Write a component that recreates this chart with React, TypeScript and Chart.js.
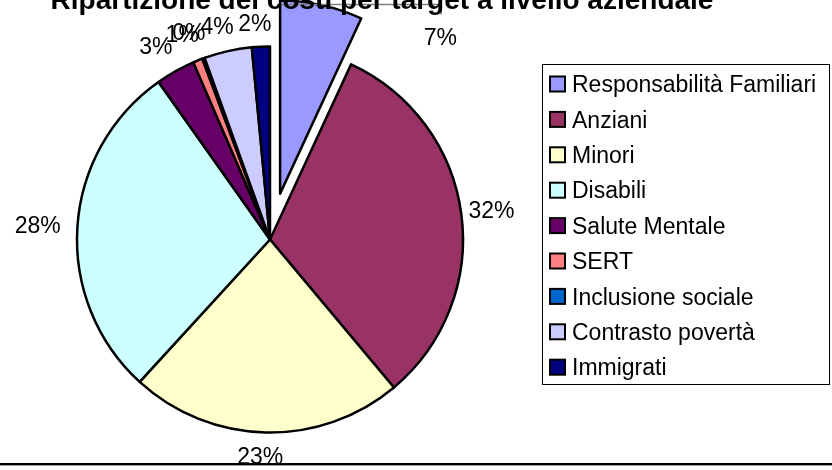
import React, { useEffect, useRef } from "react";
import { Chart, registerables } from "chart.js";

Chart.register(...registerables);

const TITLE = "Ripartizione dei costi per target a livello aziendale";
const CATEGORIES = [
  "Responsabilità Familiari",
  "Anziani",
  "Minori",
  "Disabili",
  "Salute Mentale",
  "SERT",
  "Inclusione sociale",
  "Contrasto povertà",
  "Immigrati",
];
const SHARES = [6.9, 32.0, 22.9, 28.4, 3.3, 0.8, 0.2, 4.0, 1.5];
const COLORS = [
  "#9999FF",
  "#993366",
  "#FFFFCC",
  "#CCFFFF",
  "#660066",
  "#FF8080",
  "#0066CC",
  "#CCCCFF",
  "#000080",
];
// explode distance (px) per slice
const EXPLODE = [47, 0, 0, 0, 0, 0, 0, 0, 0];

const FONT = '"Liberation Sans", Arial, sans-serif';
const LABEL_GAP = 11;
const LABEL_SHIFT_X = -5;
const LABEL_NUDGE = [118, 57];

const decorPlugin = {
  id: "decor",
  afterDatasetUpdate(chart: any, args: any) {
    if (args.index !== 0) return;
    const meta = chart.getDatasetMeta(0);
    meta.data.forEach((el: any, i: number) => {
      const d = EXPLODE[i] || 0;
      if (!d) return;
      const mid = (el.startAngle + el.endAngle) / 2;
      el.x += Math.cos(mid) * d;
      el.y += Math.sin(mid) * d;
    });
  },
  afterDatasetsDraw(chart: any) {
    const ctx = chart.ctx as CanvasRenderingContext2D;
    const meta = chart.getDatasetMeta(0);
    const data = chart.data.datasets[0].data as number[];
    const total = data.reduce((a, b) => a + b, 0);
    ctx.save();
    ctx.font = `23px ${FONT}`;
    ctx.fillStyle = "#000";
    ctx.textAlign = "center";
    ctx.textBaseline = "alphabetic";
    meta.data.forEach((el: any, i: number) => {
      const p = el.getProps(["x", "y", "startAngle", "endAngle", "outerRadius"], true);
      const mid = (p.startAngle + p.endAngle) / 2;
      const cx = p.x;
      const cy = p.y;
      const txt = Math.round((data[i] / total) * 100) + "%";
      const hw = ctx.measureText(txt).width / 2;
      const hh = 12;
      const dx = Math.cos(mid);
      const dy = Math.sin(mid);
      const d = p.outerRadius + LABEL_GAP + Math.abs(dx) * hw + Math.abs(dy) * hh;
      let lx = cx + dx * d + LABEL_SHIFT_X;
      let ly = cy + dy * d;
      if (EXPLODE[i]) {
        lx += LABEL_NUDGE[0];
        ly += LABEL_NUDGE[1];
        ctx.save();
        ctx.strokeStyle = "#808080";
        ctx.lineWidth = 1.5;
        ctx.beginPath();
        ctx.moveTo(cx, ly - 32);
        ctx.lineTo(lx + 1, ly - 32);
        ctx.lineTo(lx + 1, ly - 22);
        ctx.stroke();
        ctx.restore();
      }
      ctx.fillText(txt, lx, ly + 8.2);
    });
    ctx.restore();
  },
  afterDraw(chart: any) {
    const ctx = chart.ctx as CanvasRenderingContext2D;
    const labels = chart.data.labels as string[];
    const colors = chart.data.datasets[0].backgroundColor as string[];
    ctx.save();
    // legend box
    ctx.strokeStyle = "#000";
    ctx.lineWidth = 1;
    ctx.strokeRect(542.5, 64.5, 287, 320);
    ctx.font = `23px ${FONT}`;
    ctx.textAlign = "left";
    ctx.textBaseline = "alphabetic";
    labels.forEach((lab, i) => {
      const yc = 84 + i * 35.4;
      ctx.fillStyle = colors[i];
      ctx.fillRect(550, yc - 7.5, 15, 15);
      ctx.lineWidth = 2;
      ctx.strokeStyle = "#000";
      ctx.strokeRect(550, yc - 7.5, 15, 15);
      ctx.fillStyle = "#000";
      ctx.fillText(lab, 572, yc + 8.2);
    });
    // bottom rule
    ctx.fillStyle = "#000";
    ctx.fillRect(0, 463, 832, 2);
    ctx.fillStyle = "#a0a0a0";
    ctx.fillRect(0, 465, 832, 1);
    // title
    ctx.fillStyle = "#000";
    ctx.font = `bold 28px ${FONT}`;
    ctx.textAlign = "center";
    ctx.fillText(TITLE, 382, 8.5);
    ctx.restore();
  },
};

export default function App() {
  const ref = useRef<HTMLCanvasElement>(null);
  useEffect(() => {
    const chart = new Chart(ref.current as HTMLCanvasElement, {
      type: "pie",
      data: {
        labels: CATEGORIES,
        datasets: [
          {
            data: SHARES,
            backgroundColor: COLORS,
            borderColor: "#000",
            borderWidth: 2.5,
            borderJoinStyle: "round",
            radius: 193,
            clip: false,
          } as any,
        ],
      },
      options: {
        responsive: false,
        animation: false,
        layout: { padding: { left: 0, right: 292, top: 9, bottom: 0 } },
        plugins: {
          legend: { display: false },
          tooltip: { enabled: false },
          title: { display: false },
        },
        events: [],
      } as any,
      plugins: [decorPlugin],
    });
    return () => chart.destroy();
  }, []);
  return (
    <div
      style={{
        position: "absolute",
        left: 0,
        top: 0,
        width: 832,
        height: 470,
        background: "#fff",
      }}
    >
      <canvas
        ref={ref}
        width={832}
        height={470}
        style={{ width: 832, height: 470, display: "block" }}
      />
    </div>
  );
}
